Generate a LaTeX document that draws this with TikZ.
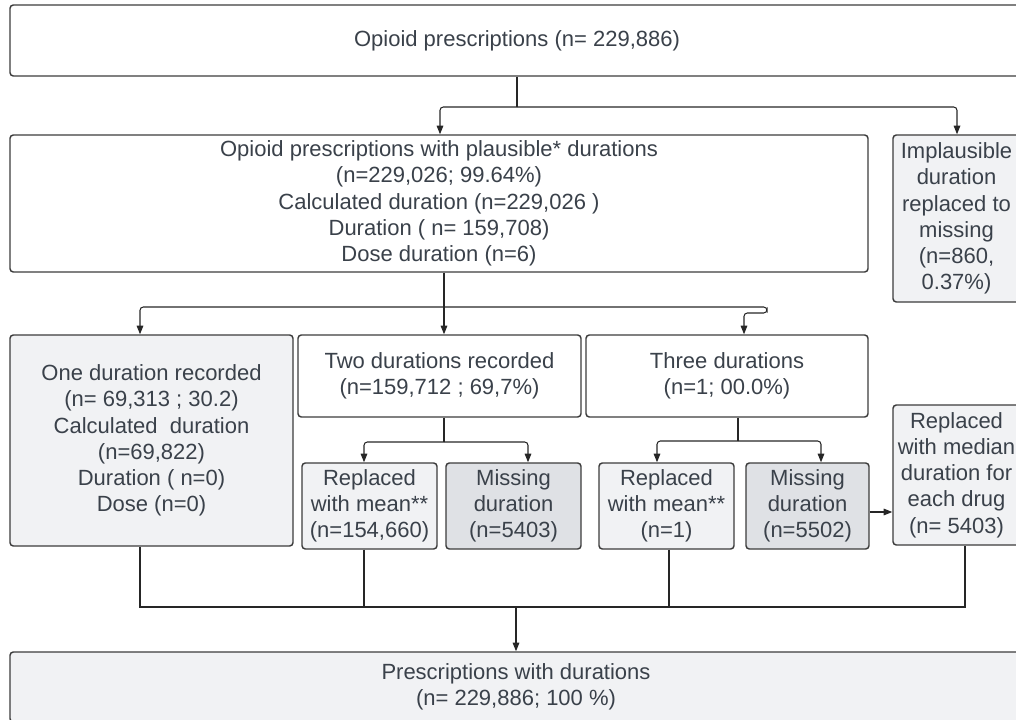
\documentclass[tikz,border=0pt]{standalone}
\usepackage{fontspec}
\setmainfont{Liberation Sans}
\usetikzlibrary{arrows.meta}
\definecolor{ink}{HTML}{3A414A}
\definecolor{edge}{HTML}{3C3C3C}
\definecolor{wire}{HTML}{262626}
\definecolor{lightfill}{HTML}{F1F2F4}
\definecolor{darkfill}{HTML}{DFE1E5}
\begin{document}
\begin{tikzpicture}[x=0.75pt,y=-0.75pt,
  box/.style 2 args={draw=edge, line width=1.1pt, rounded corners=2.5pt, inner sep=0pt,
    align=center, text=ink, font=\fontsize{16.5}{19.7}\selectfont,
    minimum width={#1*0.75pt}, minimum height={#2*0.75pt}},
  plain/.style 2 args={box={#1}{#2}, fill=white},
  soft/.style 2 args={box={#1}{#2}, fill=lightfill},
  shade/.style 2 args={box={#1}{#2}, fill=darkfill},
  conn/.style={draw=wire, line width=0.8pt},
  arr/.style={conn, -{Triangle[length=6.5pt,width=5pt]}},
  elbow/.style={rounded corners=2.5pt}]
\useasboundingbox (0,0) rectangle (1016,720);

% boxes (centre, width, height)
\node[plain={1014}{71}] (A) at (517,40.5) {Opioid prescriptions (n= 229,886)};
\node[plain={858}{137}] (B) at (439,203.5) {Opioid prescriptions with plausible* durations\\(n=229,026; 99.64\%)\\Calculated duration (n=229,026 )\\Duration ( n= 159,708)\\Dose duration (n=6)};
\node[soft={127}{167}] (C) at (956.5,218.5) {Implausible\\duration\\replaced to\\missing\\(n=860,\\0.37\%)};
\node[soft={283}{211}] (D) at (151.5,440.5) {One duration recorded\\(n= 69,313 ; 30.2)\\Calculated\ \ duration\\(n=69,822)\\Duration ( n=0)\\Dose (n=0)};
\node[plain={283}{82}] (E) at (439.5,376) {Two durations recorded\\(n=159,712 ; 69,7\%)};
\node[plain={282}{82}] (F) at (727,376) {Three durations\\(n=1; 00.0\%)};
\node[soft={135}{86}] (G) at (369.5,506) {Replaced\\with mean**\\(n=154,660)};
\node[shade={135}{86}] (H) at (513.5,506) {Missing\\duration\\(n=5403)};
\node[soft={135}{86}] (I) at (666.5,506) {Replaced\\with mean**\\(n=1)};
\node[shade={123}{86}] (J) at (807.5,506) {Missing\\duration\\(n=5502)};
\node[soft={127}{140}] (K) at (956.5,475) {Replaced\\with median\\duration for\\each drug\\(n= 5403)};
\node[soft={1012}{70}] (L) at (516,687) {Prescriptions with durations\\(n= 229,886; 100 \%)};

% junction points and arrow columns
\coordinate (jA) at (517,107);
\coordinate (jB) at (444,307);
\coordinate (jE) at (444,442);
\coordinate (jF) at (738,441);
\coordinate (jL) at (516,607);
\coordinate (xB) at (440,0);
\coordinate (xC) at (957,0);
\coordinate (xD) at (140,0);
\coordinate (xF) at (744,0);
\coordinate (xG) at (364,0);
\coordinate (xH) at (528,0);
\coordinate (xI) at (657,0);
\coordinate (xJ) at (821,0);
\coordinate (oI) at (669,0);
\coordinate (oK) at (965,0);
\coordinate (hk1) at (767,307);
\coordinate (hk2) at (767,313);
\coordinate (hk3) at (744,313);

% first split
\draw[conn] (A.south) -- (jA);
\draw[arr, elbow] (jA) -| (xB |- B.north);
\draw[arr, elbow] (jA) -| (xC |- C.north);

% second split
\draw[conn] (jB |- B.south) -- (jB);
\draw[arr, elbow] (jB) -| (xD |- D.north);
\draw[arr] (jB) -- (jB |- E.north);
\draw[arr, elbow] (jB) -- (hk1) -- (hk2) -- (hk3) -- (xF |- F.north);

% two durations
\draw[conn] (jE |- E.south) -- (jE);
\draw[arr, elbow] (jE) -| (xG |- G.north);
\draw[arr, elbow] (jE) -| (xH |- H.north);

% three durations
\draw[conn] (jF |- F.south) -- (jF);
\draw[arr, elbow] (jF) -| (xI |- I.north);
\draw[arr, elbow] (jF) -| (xJ |- J.north);

% missing to median
\draw[arr] ([yshift=-4.5pt]J.east) -- ([yshift=-4.5pt]J.east -| K.west);

% merge
\draw[conn] (xD |- D.south) -- (xD |- jL) -- (oK |- jL) -- (oK |- K.south);
\draw[conn] (xG |- G.south) -- (xG |- jL);
\draw[conn] (oI |- I.south) -- (oI |- jL);
\draw[arr] (jL) -- (jL |- L.north);
\end{tikzpicture}
\end{document}
